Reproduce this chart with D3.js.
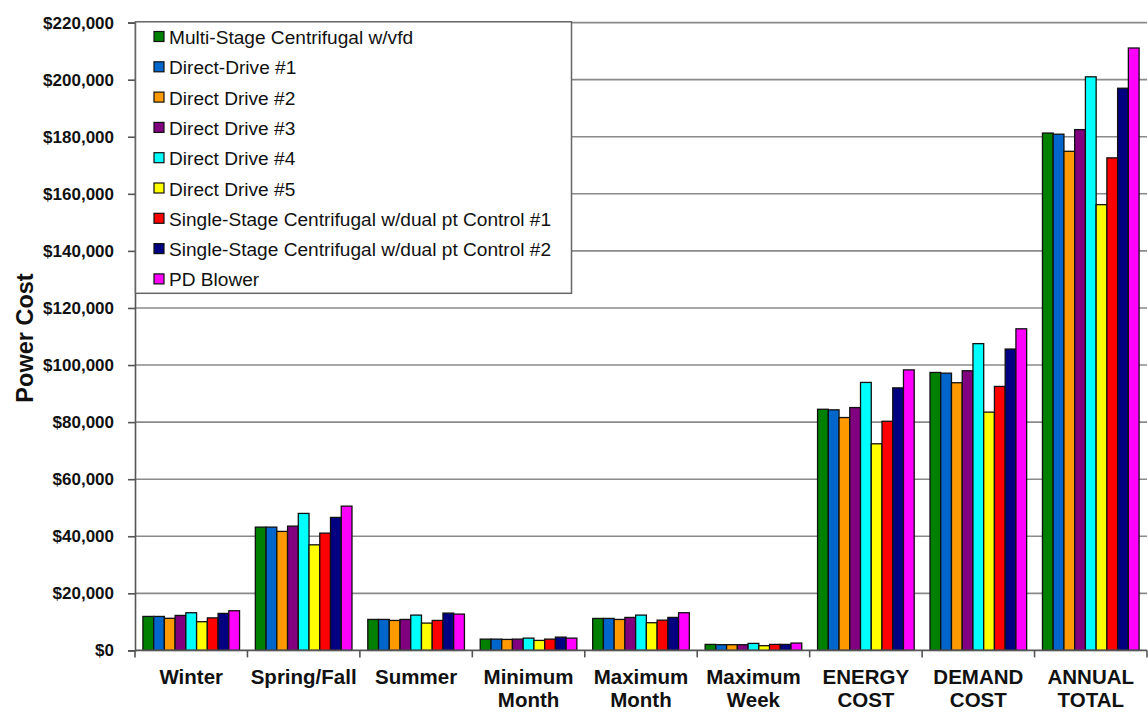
<!DOCTYPE html>
<html>
<head>
<meta charset="utf-8">
<script src="https://cdn.jsdelivr.net/npm/d3@7"></script>
<style>
  html, body { margin: 0; padding: 0; background: #fff; }
  svg { display: block; font-family: "Liberation Sans", Arial, sans-serif; }
</style>
</head>
<body>
<svg id="chart" width="1148" height="712"></svg>
<script>
// Category labels (one or two lines each)
const categories = [
  ["Winter"], ["Spring/Fall"], ["Summer"],
  ["Minimum", "Month"], ["Maximum", "Month"], ["Maximum", "Week"],
  ["ENERGY", "COST"], ["DEMAND", "COST"], ["ANNUAL", "TOTAL"]
];

const seriesNames = [
  "Multi-Stage Centrifugal w/vfd",
  "Direct-Drive #1",
  "Direct Drive #2",
  "Direct Drive #3",
  "Direct Drive #4",
  "Direct Drive #5",
  "Single-Stage Centrifugal w/dual pt Control #1",
  "Single-Stage Centrifugal w/dual pt Control #2",
  "PD Blower"
];

const seriesColors = [
  "#008000", "#0066CC", "#FF9900", "#800080", "#00FFFF",
  "#FFFF00", "#FF0000", "#000080", "#FF00FF"
];

// Power cost ($) per blower option, in category order
const multiStage   = [11900, 43200, 10850, 3950, 11200, 2100, 84500,  97400, 181300];
const directDrive1 = [11900, 43200, 10850, 3950, 11200, 2000, 84300,  97150, 180900];
const directDrive2 = [11250, 41700, 10500, 3850, 10850, 2000, 81600,  93800, 174900];
const directDrive3 = [12250, 43550, 10850, 3950, 11550, 2000, 85100,  98000, 182500];
const directDrive4 = [13200, 48000, 12370, 4300, 12370, 2450, 93900, 107500, 201000];
const directDrive5 = [10050, 37000,  9570, 3500,  9700, 1650, 72400,  83500, 156200];
const singleStage1 = [11400, 41100, 10500, 3950, 10600, 2100, 80300,  92500, 172600];
const singleStage2 = [12960, 46600, 13070, 4650, 11560, 2100, 92000, 105600, 197000];
const pdBlower     = [13900, 50550, 12720, 4300, 13200, 2570, 98300, 112700, 211100];

const seriesValues = [multiStage, directDrive1, directDrive2, directDrive3, directDrive4,
                      directDrive5, singleStage1, singleStage2, pdBlower];

const yTickValues = [0, 20000, 40000, 60000, 80000, 100000, 120000, 140000,
                     160000, 180000, 200000, 220000];

const svg = d3.select("#chart");
const plotLeft = 135, plotRight = 1147, plotTop = 22.6, plotBottom = 650.4;

const x = d3.scaleBand().domain(d3.range(categories.length)).range([plotLeft, plotRight]);
const xInner = d3.scaleBand().domain(d3.range(seriesNames.length))
  .range([7.9, x.bandwidth() - 7.9]);
const y = d3.scaleLinear().domain([0, 220000]).range([plotBottom, plotTop]);
const fmt = v => "$" + d3.format(",")(v);

// Horizontal gridlines
svg.append("g")
  .selectAll("line")
  .data(yTickValues.filter(v => v > 0))
  .join("line")
  .attr("x1", plotLeft).attr("x2", plotRight)
  .attr("y1", d => y(d)).attr("y2", d => y(d))
  .attr("stroke", "#8a8a8a").attr("stroke-width", 1.6);

// Bars
const groups = svg.append("g").selectAll("g")
  .data(categories.map((c, i) => i))
  .join("g")
  .attr("transform", i => `translate(${x(i)},0)`);

groups.selectAll("rect")
  .data(i => seriesValues.map((s, k) => ({ k, v: s[i] })))
  .join("rect")
  .attr("x", d => xInner(d.k))
  .attr("width", xInner.bandwidth())
  .attr("y", d => y(d.v))
  .attr("height", d => y(0) - y(d.v))
  .attr("fill", d => seriesColors[d.k])
  .attr("stroke", "#111")
  .attr("stroke-width", 1.3);

// Y axis
const yAxis = d3.axisLeft(y).tickValues(yTickValues).tickFormat(fmt)
  .tickSize(7).tickPadding(14);
const yG = svg.append("g").attr("transform", `translate(${plotLeft},0)`).call(yAxis);
yG.select(".domain").attr("stroke", "#555").attr("stroke-width", 1.6);
yG.selectAll(".tick line").attr("stroke", "#555").attr("stroke-width", 1.6);
yG.selectAll(".tick text")
  .attr("font-size", 17).attr("font-weight", "bold").attr("fill", "#111")
  .attr("font-family", "'Liberation Sans', Arial, sans-serif");

// X axis baseline and category separators
svg.append("line")
  .attr("x1", plotLeft).attr("x2", plotRight)
  .attr("y1", y(0)).attr("y2", y(0))
  .attr("stroke", "#555").attr("stroke-width", 1.6);
svg.append("g").selectAll("line")
  .data(d3.range(categories.length + 1))
  .join("line")
  .attr("x1", i => plotLeft + i * x.bandwidth()).attr("x2", i => plotLeft + i * x.bandwidth())
  .attr("y1", y(0)).attr("y2", y(0) + 7)
  .attr("stroke", "#555").attr("stroke-width", 1.6);

// Category labels
const labels = svg.append("g").selectAll("text")
  .data(categories)
  .join("text")
  .attr("x", (c, i) => x(i) + x.bandwidth() / 2)
  .attr("text-anchor", "middle")
  .attr("font-size", 20.5).attr("font-weight", "bold").attr("fill", "#111");
labels.selectAll("tspan")
  .data(c => c)
  .join("tspan")
  .attr("x", function () { return d3.select(this.parentNode).attr("x"); })
  .attr("y", (t, j) => 683.5 + j * 23.5)
  .text(t => t);

// Y axis title
svg.append("text")
  .attr("transform", "translate(33,338) rotate(-90)")
  .attr("text-anchor", "middle")
  .attr("font-size", 23.5).attr("font-weight", "bold").attr("fill", "#111")
  .text("Power Cost");

// Legend
const legend = svg.append("g");
legend.append("rect")
  .attr("x", 135.5).attr("y", 21.8).attr("width", 436).attr("height", 271.5)
  .attr("fill", "#fff").attr("stroke", "#666").attr("stroke-width", 1.5);
const item = legend.selectAll("g.item")
  .data(seriesNames)
  .join("g").attr("class", "item")
  .attr("transform", (d, i) => `translate(154,${37 + i * 30.3})`);
item.append("rect")
  .attr("x", 0).attr("y", -5.5).attr("width", 10).attr("height", 10)
  .attr("fill", (d, i) => seriesColors[i])
  .attr("stroke", "#111").attr("stroke-width", 1.2);
item.append("text")
  .attr("x", 15).attr("y", 7)
  .attr("font-size", 19.1).attr("fill", "#111")
  .text(d => d);
</script>
</body>
</html>
